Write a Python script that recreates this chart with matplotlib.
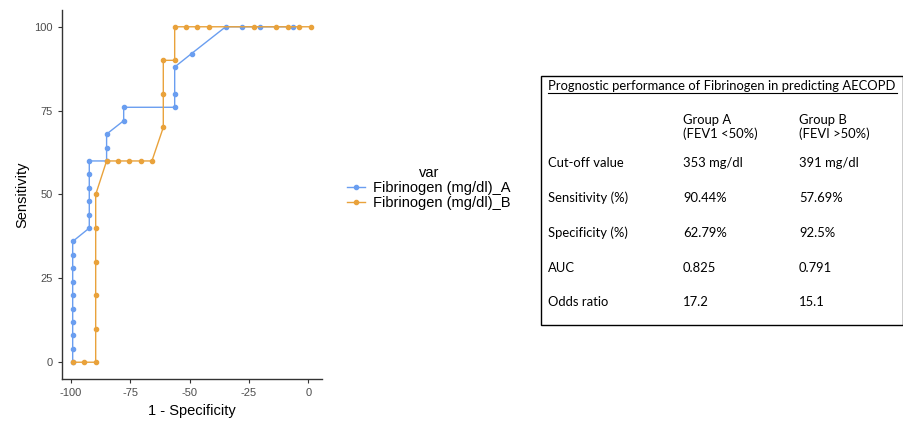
import matplotlib
matplotlib.use("Agg")
import matplotlib.pyplot as plt
from matplotlib.lines import Line2D

plt.rcParams["axes.unicode_minus"] = False
plt.rcParams["font.family"] = ["Liberation Sans", "DejaVu Sans"]

# ROC points (x = -specificity, y = sensitivity)
a_x = [-99.3, -99.3, -99.3, -99.3, -99.3, -99.3, -99.3, -99.3, -99.3, -99.3,
       -92.3, -92.3, -92.3, -92.3, -92.3, -92.3, -85.0, -85.0, -85.0,
       -77.8, -77.8, -56.3, -56.3, -56.3, -49.2, -34.8, -27.8, -20.5, -6.3]
a_y = [0, 4, 8, 12, 16, 20, 24, 28, 32, 36,
       40, 44, 48, 52, 56, 60, 60, 64, 68,
       72, 76, 76, 80, 88, 92, 100, 100, 100, 100]

b_x = [-99.3, -94.5, -89.6, -89.6, -89.6, -89.6, -89.6, -89.6,
       -85.0, -80.2, -75.4, -70.6, -65.9, -61.1, -61.1, -61.1,
       -56.3, -56.3, -51.7, -46.9, -42.0, -22.9, -13.5, -8.7, -3.9, 1.0]
b_y = [0, 0, 0, 10, 20, 30, 40, 50,
       60, 60, 60, 60, 60, 70, 80, 90,
       90, 100, 100, 100, 100, 100, 100, 100, 100, 100]

series_names = ["Fibrinogen (mg/dl)_A", "Fibrinogen (mg/dl)_B"]
colors = ["#6A9EF0", "#E9A23B"]

x_ticks = [-100, -75, -50, -25, 0]
y_ticks = [0, 25, 50, 75, 100]

table_title = "Prognostic performance of Fibrinogen in predicting AECOPD"
col_heads = ["Group A\n(FEV1 <50%)", "Group B\n(FEVI >50%)"]
row_labels = ["Cut-off value", "Sensitivity (%)", "Specificity (%)", "AUC", "Odds ratio"]
group_a = ["353 mg/dl", "90.44%", "62.79%", "0.825", "17.2"]
group_b = ["391 mg/dl", "57.69%", "92.5%", "0.791", "15.1"]

W, H = 904, 423
fig = plt.figure(figsize=(W / 100, H / 100), dpi=100)

def fx(px):
    return px / W

def fy(py):
    return 1 - py / H

ax = fig.add_axes([fx(62), fy(379), fx(322) - fx(62), fy(10) - fy(379)])
ax.plot(a_x, a_y, color=colors[0], lw=1, marker="o", ms=3, zorder=2)
ax.plot(b_x, b_y, color=colors[1], lw=1, marker="o", ms=3, zorder=3)

ax.set_xlim(-103.8, 5.8)
ax.set_ylim(-5, 105)
ax.set_xticks(x_ticks)
ax.set_yticks(y_ticks)
ax.tick_params(labelsize=8, labelcolor="#4d4d4d", color="#333333", length=3, width=0.8)
for s in ["top", "right"]:
    ax.spines[s].set_visible(False)
for s in ["left", "bottom"]:
    ax.spines[s].set_color("#333333")
    ax.spines[s].set_linewidth(1)
ax.set_xlabel("1 - Specificity", fontsize=10.5)
ax.set_ylabel("Sensitivity", fontsize=10.5)

handles = [Line2D([], [], color=c, lw=1, marker="o", ms=3) for c in colors]
fig.legend(handles, series_names, title="var", loc="center left",
           bbox_to_anchor=(fx(334), fy(188)), frameon=False, fontsize=10.5,
           title_fontsize=10.5, handlelength=1.2, handletextpad=0.6,
           labelspacing=0.05)

# table on the right
tf = "Lato"
fs = 9.4
fig.patches.append(plt.Rectangle((fx(541), fy(325)), fx(903) - fx(541), fy(76) - fy(325),
                                 transform=fig.transFigure, fill=False,
                                 edgecolor="black", lw=1))
fig.text(fx(548), fy(86), table_title, fontsize=fs, family=tf, va="center")
fig.add_artist(Line2D([fx(548), fx(897)], [fy(93), fy(93)],
                      transform=fig.transFigure, color="black", lw=0.8))
fig.text(fx(683), fy(127), col_heads[0], fontsize=fs, family=tf, va="center",
         linespacing=1.2)
fig.text(fx(799), fy(127), col_heads[1], fontsize=fs, family=tf, va="center",
         linespacing=1.2)
row_y = [163, 198, 233, 268, 302]
for i in range(len(row_labels)):
    fig.text(fx(548), fy(row_y[i]), row_labels[i], fontsize=fs, family=tf, va="center")
    fig.text(fx(683), fy(row_y[i]), group_a[i], fontsize=fs, family=tf, va="center")
    fig.text(fx(799), fy(row_y[i]), group_b[i], fontsize=fs, family=tf, va="center")

fig.savefig("out.png", dpi=100)
